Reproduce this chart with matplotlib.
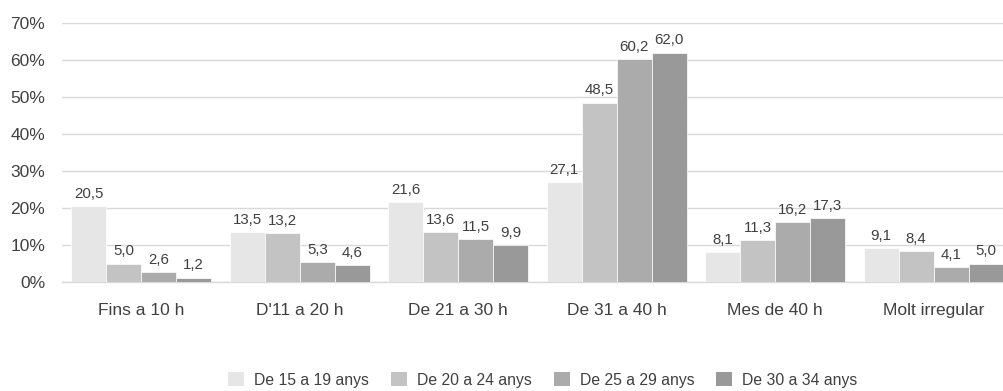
import numpy as np
import matplotlib
matplotlib.use("Agg")
import matplotlib.pyplot as plt
import matplotlib.ticker as ticker
from matplotlib.patches import Patch

categories = ["Fins a 10 h", "D'11 a 20 h", "De 21 a 30 h", "De 31 a 40 h", "Mes de 40 h", "Molt irregular"]
series_names = ["De 15 a 19 anys", "De 20 a 24 anys", "De 25 a 29 anys", "De 30 a 34 anys"]
age_15_19 = [20.5, 13.5, 21.6, 27.1, 8.1, 9.1]
age_20_24 = [5.0, 13.2, 13.6, 48.5, 11.3, 8.4]
age_25_29 = [2.6, 5.3, 11.5, 60.2, 16.2, 4.1]
age_30_34 = [1.2, 4.6, 9.9, 62.0, 17.3, 5.0]
series = [age_15_19, age_20_24, age_25_29, age_30_34]
colors = ["#e6e6e6", "#c3c3c3", "#ababab", "#999999"]

plt.rcParams["font.family"] = ["Liberation Sans", "DejaVu Sans"]
textColor = "#404040"

fig = plt.figure(figsize=(10.04, 3.91), dpi=100)
# axes spans pixel 62..1013 horizontally, 282..23 vertically
ax = fig.add_axes([62/1004, 1 - 282/391, 951/1004, 259/391])

x = np.arange(len(categories))
barWidth = 0.221
for i, vals in enumerate(series):
    pos = x + (i - 1.5)*barWidth
    ax.bar(pos, vals, width=barWidth, color=colors[i], edgecolor="white", linewidth=0.5, zorder=3)
    for px, v in zip(pos, vals):
        ax.text(px, v + 2.2, ("%.1f" % v).replace(".", ","), ha="center", va="baseline",
                fontsize=10.8, color=textColor)

ax.set_xlim(-0.5, len(categories) - 0.5)
ax.set_ylim(0, 70)
ax.set_yticks(np.arange(0, 71, 10))
ax.yaxis.set_major_formatter(ticker.FuncFormatter(lambda v, p: "%d%%" % v))
ax.set_xticks(x)
ax.set_xticklabels(categories)
ax.tick_params(axis="both", length=0, labelsize=12.5, colors=textColor)
ax.tick_params(axis="x", pad=15)
ax.tick_params(axis="y", pad=12)
ax.grid(axis="y", color="#d9d9d9", linewidth=1.0, zorder=0)
for s in ["top", "right", "left"]:
    ax.spines[s].set_visible(False)
ax.spines["bottom"].set_color("#d9d9d9")
ax.spines["bottom"].set_linewidth(1.0)

handles = [Patch(facecolor=c, edgecolor="none") for c in colors]
leg = fig.legend(handles, series_names, loc="center", bbox_to_anchor=(543/1004, 1 - 380/391),
                 ncol=4, frameon=False, fontsize=11.3, handlelength=1.0, handleheight=1.0,
                 handletextpad=0.65, columnspacing=1.4, borderpad=0)
for t in leg.get_texts():
    t.set_color(textColor)

fig.savefig("out.png", dpi=100)
